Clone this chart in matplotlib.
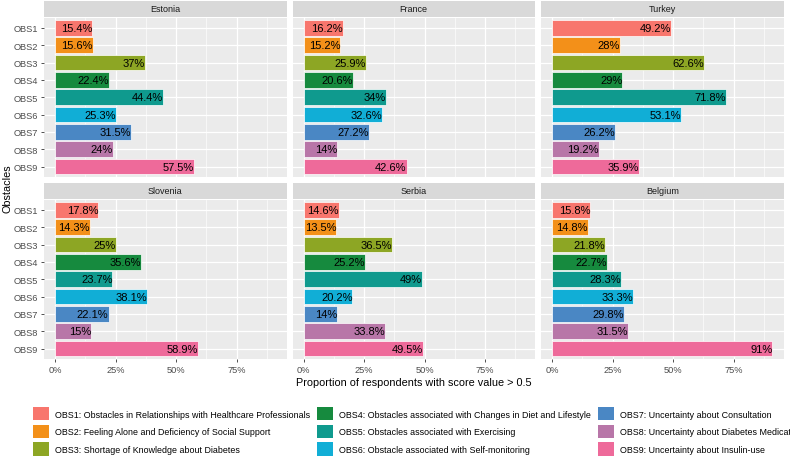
import matplotlib
matplotlib.use("Agg")
import matplotlib.pyplot as plt
from matplotlib.patches import Patch

plt.rcParams["font.family"] = ["Liberation Sans", "DejaVu Sans"]

# data (percent of respondents with score value > 0.5)
obstacles = ["OBS1", "OBS2", "OBS3", "OBS4", "OBS5", "OBS6", "OBS7", "OBS8", "OBS9"]
countries = ["Estonia", "France", "Turkey", "Slovenia", "Serbia", "Belgium"]
estonia = [15.4, 15.6, 37, 22.4, 44.4, 25.3, 31.5, 24, 57.5]
france = [16.2, 15.2, 25.9, 20.6, 34, 32.6, 27.2, 14, 42.6]
turkey = [49.2, 28, 62.6, 29, 71.8, 53.1, 26.2, 19.2, 35.9]
slovenia = [17.8, 14.3, 25, 35.6, 23.7, 38.1, 22.1, 15, 58.9]
serbia = [14.6, 13.5, 36.5, 25.2, 49, 20.2, 14, 33.8, 49.5]
belgium = [15.8, 14.8, 21.8, 22.7, 28.3, 33.3, 29.8, 31.5, 91]
values = [estonia, france, turkey, slovenia, serbia, belgium]

legend_labels = [
    "OBS1: Obstacles in Relationships with Healthcare Professionals",
    "OBS2: Feeling Alone and Deficiency of Social Support",
    "OBS3: Shortage of Knowledge about Diabetes",
    "OBS4: Obstacles associated with Changes in Diet and Lifestyle",
    "OBS5: Obstacles associated with Exercising",
    "OBS6: Obstacle associated with Self-monitoring",
    "OBS7: Uncertainty about Consultation",
    "OBS8: Uncertainty about Diabetes Medication",
    "OBS9: Uncertainty about Insulin-use",
]
colors = ["#F8766D", "#F39019", "#8DA624", "#168A3E", "#0F9A8E",
          "#11AED6", "#4A87C4", "#B876A8", "#EE6A9A"]

W, H = 790, 460
fig = plt.figure(figsize=(W / 100, H / 100), dpi=100)

col_left = [44, 292.5, 541]
panel_w = 242.5
strip_h = 16
rows = [(2, 18.5, 178), (184, 200.5, 360)]  # strip top, panel top, panel bottom

xmax = 91
pad = xmax * 0.05


def fx(px):
    return px / W


def fy(py):
    return 1 - py / H


ypos = list(range(len(obstacles)))
for i, country in enumerate(countries):
    r, c = divmod(i, 3)
    s_top, p_top, p_bot = rows[r]
    left = col_left[c]

    # facet strip
    sax = fig.add_axes([fx(left), fy(s_top + strip_h), fx(panel_w), strip_h / H])
    sax.set_facecolor("#D9D9D9")
    sax.set_xticks([])
    sax.set_yticks([])
    for sp in sax.spines.values():
        sp.set_visible(False)
    sax.text(0.5, 0.5, country, ha="center", va="center", fontsize=6.5,
             color="#1A1A1A", transform=sax.transAxes)

    ax = fig.add_axes([fx(left), fy(p_bot), fx(panel_w), (p_bot - p_top) / H])
    ax.set_facecolor("#EBEBEB")
    for sp in ax.spines.values():
        sp.set_visible(False)
    ax.set_axisbelow(True)

    vals = values[i]
    ax.barh(ypos, vals, height=0.9, color=colors, edgecolor="white", linewidth=0.5)
    for y, v in zip(ypos, vals):
        ax.text(v, y, f"{v:g}%", ha="right", va="center", fontsize=8, color="black")

    ax.set_xlim(-pad, xmax + pad)
    ax.set_ylim(len(obstacles) - 0.4, -0.6)
    ax.set_xticks([0, 25, 50, 75])
    ax.set_xticks([12.5, 37.5, 62.5, 87.5], minor=True)
    ax.set_yticks(ypos)
    ax.grid(True, which="major", color="white", linewidth=0.9)
    ax.grid(True, which="minor", axis="x", color="white", linewidth=0.45)
    ax.tick_params(which="minor", length=0)
    ax.tick_params(which="major", length=2.5, width=0.6, color="#333333",
                   labelsize=6.7, labelcolor="#4D4D4D", pad=1.5)

    if c == 0:
        ax.set_yticklabels(obstacles)
    else:
        ax.tick_params(axis="y", length=0, labelleft=False)
    if r == 1:
        ax.set_xticklabels(["0%", "25%", "50%", "75%"])
    else:
        ax.tick_params(axis="x", length=0, labelbottom=False)

fig.text(fx(413.5), fy(383), "Proportion of respondents with score value > 0.5",
         ha="center", va="center", fontsize=7.8, color="black")
fig.text(fx(8), fy(189), "Obstacles", ha="center", va="center", rotation=90,
         fontsize=7.8, color="black")

handles = [Patch(facecolor=col, edgecolor="none") for col in colors]
fig.legend(handles, legend_labels, ncol=3, loc="upper left",
           bbox_to_anchor=(fx(27), fy(402)), frameon=False, fontsize=6.4,
           handlelength=1.75, handleheight=1.9, handletextpad=0.7,
           labelspacing=0.5, columnspacing=0.8, borderpad=0.2)

fig.savefig("out.png", dpi=100)
